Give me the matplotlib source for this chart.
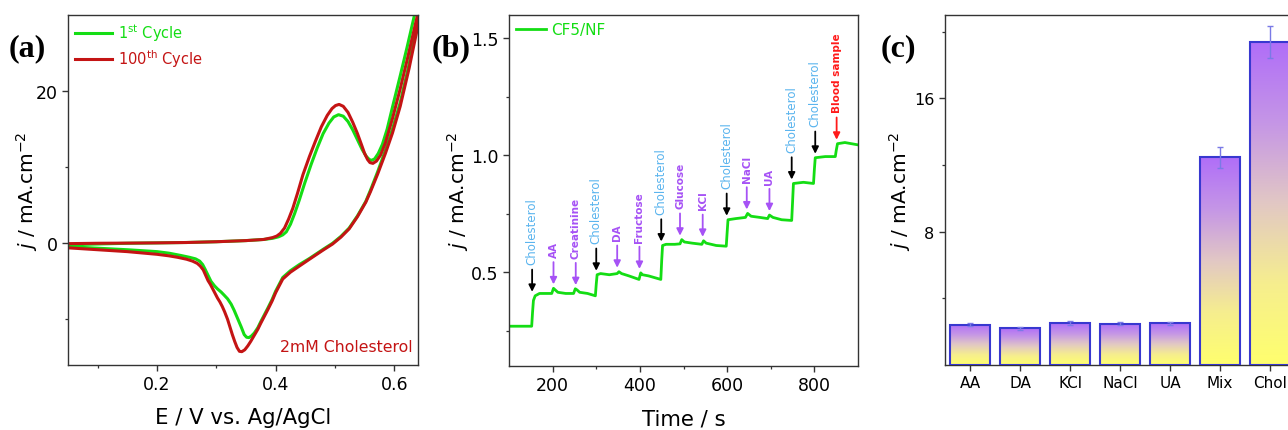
import numpy as np
import matplotlib
matplotlib.use("Agg")
import matplotlib.pyplot as plt
from matplotlib.ticker import FixedLocator
from matplotlib.colors import LinearSegmentedColormap

plt.rcParams['font.family'] = ['DejaVu Sans']
plt.rcParams['mathtext.fontset'] = 'dejavusans'

# ---------------- Panel (a) data: CV loops ----------------
cv1_E = [0.05, 0.10, 0.15, 0.20, 0.25, 0.30, 0.35, 0.38, 0.395, 0.405, 0.412, 0.418, 0.425,
         0.432, 0.44, 0.449, 0.46, 0.47, 0.48, 0.49, 0.498, 0.506, 0.514, 0.522, 0.53, 0.538,
         0.546, 0.553, 0.558, 0.562, 0.567, 0.573, 0.58, 0.588, 0.597, 0.61, 0.622, 0.635, 0.648,
         0.640, 0.625, 0.61, 0.597, 0.585, 0.572, 0.56, 0.552, 0.538, 0.524, 0.51, 0.496, 0.48,
         0.457, 0.44, 0.425, 0.412, 0.40, 0.394, 0.387, 0.381, 0.375, 0.37, 0.364, 0.359, 0.355,
         0.351, 0.347, 0.342, 0.336, 0.330, 0.325, 0.319, 0.313, 0.308, 0.302, 0.297, 0.291,
         0.286, 0.281, 0.277, 0.272, 0.265, 0.255, 0.24, 0.22, 0.20, 0.15, 0.10, 0.05]
cv1_j = [-0.2, -0.1, 0.0, 0.05, 0.1, 0.2, 0.35, 0.5, 0.65, 0.85, 1.1, 1.5, 2.5,
         3.9, 5.7, 7.9, 10.4, 12.5, 14.4, 15.8, 16.6, 16.9, 16.7, 16.0, 14.9, 13.6,
         12.3, 11.4, 11.0, 10.9, 11.1, 11.8, 13.0, 15.0, 17.9, 22.0, 25.9, 30.3, 33.5,
         29.5, 23.5, 18.5, 15.0, 12.2, 9.4, 7.0, 5.5, 3.6, 2.0, 0.9, 0.0, -0.8,
         -2.0, -2.8, -3.6, -4.5, -6.3, -7.4, -8.5, -9.4, -10.3, -11.1, -11.8, -12.2, -12.4,
         -12.35, -12.0, -11.0, -9.9, -8.8, -8.0, -7.3, -6.8, -6.4, -6.0, -5.6, -5.0,
         -4.2, -3.4, -2.8, -2.35, -2.05, -1.85, -1.6, -1.3, -1.1, -0.85, -0.65, -0.45]

cv100_E = [0.05, 0.10, 0.15, 0.20, 0.25, 0.30, 0.35, 0.38, 0.395, 0.402, 0.408, 0.415, 0.422,
           0.429, 0.437, 0.446, 0.457, 0.467, 0.477, 0.487, 0.495, 0.501, 0.507, 0.514, 0.522,
           0.53, 0.538, 0.545, 0.55, 0.555, 0.559, 0.564, 0.57, 0.577, 0.585, 0.597, 0.61, 0.622,
           0.638, 0.650,
           0.641, 0.625, 0.61, 0.597, 0.585, 0.572, 0.56, 0.552, 0.538, 0.524, 0.51, 0.496, 0.48,
           0.457, 0.44, 0.425, 0.412, 0.40, 0.394, 0.387, 0.381, 0.375, 0.37, 0.364, 0.358,
           0.353, 0.348, 0.343, 0.339, 0.335, 0.331, 0.327, 0.323, 0.319, 0.314, 0.31, 0.306,
           0.302, 0.298, 0.294, 0.29, 0.286, 0.282, 0.278, 0.273, 0.268, 0.26, 0.25, 0.235,
           0.22, 0.20, 0.15, 0.10, 0.05]
cv100_j = [-0.05, 0.0, 0.02, 0.05, 0.1, 0.2, 0.35, 0.5, 0.75, 0.95, 1.3, 2.0, 3.2,
           4.6, 6.6, 9.0, 11.4, 13.4, 15.3, 16.8, 17.7, 18.1, 18.25, 18.0, 17.2,
           15.9, 14.4, 12.9, 11.8, 11.0, 10.6, 10.5, 10.8, 11.6, 13.2, 16.4, 20.3, 24.2,
           29.6, 33.5,
           29.0, 23.0, 18.0, 14.5, 11.8, 9.1, 6.8, 5.4, 3.5, 1.9, 0.8, -0.1, -0.9,
           -2.1, -3.0, -3.8, -4.7, -6.5, -7.6, -8.7, -9.6, -10.5, -11.3, -12.1, -12.9,
           -13.5, -14.0, -14.25, -14.2, -13.7, -12.9, -12.0, -11.0, -10.0, -9.0, -8.3, -7.7,
           -7.2, -6.6, -6.0, -5.4, -4.9, -4.2, -3.5, -3.0, -2.65, -2.35, -2.1, -1.85,
           -1.65, -1.45, -1.1, -0.85, -0.6]

# ---------------- Panel (b) data: amperometric i-t ----------------
it_t = [100, 152, 154, 156, 160, 170, 185, 198, 202, 206, 212, 230, 248, 252, 256, 262, 280,
        298, 300, 302, 310, 330, 348, 352, 358, 375, 398, 402, 406, 420, 448, 450, 452, 460,
        480, 492, 496, 502, 520, 542, 546, 552, 575, 598, 600, 602, 620, 642, 647, 655, 675,
        693, 697, 705, 725, 748, 750, 752, 775, 798, 800, 802, 825, 848, 850, 853, 870, 900]
it_j = [0.27, 0.27, 0.33, 0.38, 0.40, 0.41, 0.41, 0.41, 0.432, 0.425, 0.415, 0.41, 0.41,
        0.43, 0.425, 0.415, 0.41, 0.40, 0.45, 0.49, 0.495, 0.49, 0.495, 0.503, 0.495, 0.485,
        0.47, 0.498, 0.49, 0.485, 0.47, 0.55, 0.615, 0.62, 0.62, 0.622, 0.64, 0.63, 0.625,
        0.62, 0.635, 0.625, 0.615, 0.612, 0.67, 0.725, 0.73, 0.735, 0.752, 0.74, 0.735, 0.73,
        0.745, 0.735, 0.725, 0.722, 0.80, 0.88, 0.885, 0.88, 0.94, 0.99, 0.995, 0.995, 1.02,
        1.05, 1.055, 1.045]

inj_t = [153, 202, 253, 300, 348, 399, 449, 492, 544, 599, 645, 697, 748, 802, 851]
inj_labels = ['Cholesterol', 'AA', 'Creatinine', 'Cholesterol', 'DA', 'Fructose', 'Cholesterol',
              'Glucose', 'KCl', 'Cholesterol', 'NaCl', 'UA', 'Cholesterol', 'Cholesterol',
              'Blood sample']
inj_kind = ['chol', 'int', 'int', 'chol', 'int', 'int', 'chol', 'int', 'int', 'chol', 'int',
            'int', 'chol', 'chol', 'blood']

# ---------------- Panel (c) data: selectivity bars ----------------
sel_labels = ['AA', 'DA', 'KCl', 'NaCl', 'UA', 'Mix', 'Chol']
sel_vals = [2.42, 2.2, 2.52, 2.48, 2.5, 12.46, 19.38]
sel_err = [0.1, 0.08, 0.12, 0.1, 0.1, 0.63, 0.98]

GREEN = '#14dd14'
RED = '#c41414'

fig = plt.figure(figsize=(12.88, 4.31), dpi=100)
W, H = 1288, 431

def add_axes_px(left, right, top, bottom):
    return fig.add_axes([left / W, 1 - bottom / H, (right - left) / W, (bottom - top) / H])

def style_axes(ax, fs=12.5):
    for s in ax.spines.values():
        s.set_linewidth(1.0)
        s.set_color('#333333')
    ax.tick_params(which='major', direction='out', length=4.5, width=1.0, labelsize=fs,
                   color='#333333', pad=3)
    ax.tick_params(which='minor', direction='out', length=2.5, width=0.9, color='#333333')

# ---------- (a) ----------
axa = add_axes_px(68, 418, 16, 366)
axa.plot(cv1_E, cv1_j, color=GREEN, lw=2.2, label=r'1$^{\mathrm{st}}$ Cycle',
         solid_joinstyle='round')
axa.plot(cv100_E, cv100_j, color=RED, lw=2.2, label=r'100$^{\mathrm{th}}$ Cycle',
         solid_joinstyle='round')
axa.set_xlim(0.05, 0.64)
axa.set_ylim(-16, 30)
axa.xaxis.set_major_locator(FixedLocator([0.2, 0.4, 0.6]))
axa.xaxis.set_minor_locator(FixedLocator([0.1, 0.3, 0.5]))
axa.yaxis.set_major_locator(FixedLocator([0, 20]))
axa.yaxis.set_minor_locator(FixedLocator([-10, 10]))
style_axes(axa)
axa.set_xlabel('E / V vs. Ag/AgCl', fontsize=15.3, labelpad=10)
axa.set_ylabel('$j$ / mA.cm$^{-2}$', fontsize=14.5, labelpad=-3)
axa.legend(loc='upper left', frameon=False, fontsize=10.5, handlelength=2.6,
           handletextpad=0.35, borderaxespad=0.15, borderpad=0.3, labelspacing=0.25,
           labelcolor='linecolor')
axa.text(0.985, 0.03, '2mM Cholesterol', color=RED, fontsize=11.3, ha='right', va='bottom',
         transform=axa.transAxes)

# ---------- (b) ----------
axb = add_axes_px(509, 858, 16, 367)
axb.plot(it_t, it_j, color=GREEN, lw=2.0, label='CF5/NF', solid_joinstyle='round')
axb.set_xlim(100, 900)
axb.set_ylim(0.1, 1.6)
axb.xaxis.set_major_locator(FixedLocator([200, 400, 600, 800]))
axb.xaxis.set_minor_locator(FixedLocator([300, 500, 700]))
axb.yaxis.set_major_locator(FixedLocator([0.5, 1.0, 1.5]))
axb.yaxis.set_minor_locator(FixedLocator([0.25, 0.75, 1.25]))
style_axes(axb)
axb.set_xlabel('Time / s', fontsize=15.3, labelpad=10)
axb.set_ylabel('$j$ / mA.cm$^{-2}$', fontsize=14.5, labelpad=0)
axb.legend(loc='upper left', frameon=False, fontsize=11, handlelength=2.0,
           handletextpad=0.3, borderaxespad=0.15, borderpad=0.3, labelcolor='linecolor')

kind_style = {
    'chol': dict(tc='#5ab4ee', ac='black', weight='normal', fs=8.5),
    'int': dict(tc='#a652f5', ac='#a652f5', weight='bold', fs=7.5),
    'blood': dict(tc='#ff1a1a', ac='#ff1a1a', weight='bold', fs=7.5),
}
t_arr = np.array(it_t, dtype=float)
j_arr = np.array(it_j, dtype=float)
for t, lab, kind in zip(inj_t, inj_labels, inj_kind):
    st = kind_style[kind]
    mask = (t_arr >= t) & (t_arr <= t + 9)
    base = max(np.interp(t, t_arr, j_arr), j_arr[mask].max() if mask.any() else 0)
    tip = base + 0.017
    tail = tip + 0.095
    axb.annotate('', xy=(t, tip), xytext=(t, tail),
                 arrowprops=dict(arrowstyle='-|>', color=st['ac'], lw=1.3,
                                 mutation_scale=10, shrinkA=0, shrinkB=0))
    axb.text(t, tail + 0.022, lab, rotation=90, ha='center', va='bottom', color=st['tc'],
             fontsize=st['fs'], fontweight=st['weight'])

# ---------- (c) ----------
axc = add_axes_px(945, 1295, 16, 366)
x = np.arange(len(sel_labels))
cmap = LinearSegmentedColormap.from_list('yp', ['#ffff6e', '#f6ee8e', '#e2c8c4', '#c596e6', '#b06ef8'])
grad = np.linspace(0, 1, 256).reshape(-1, 1)
bars = axc.bar(x, sel_vals, width=0.8, facecolor='none', edgecolor='#3838d0', lw=1.5, zorder=3)
for b in bars:
    bx, bw, bh = b.get_x(), b.get_width(), b.get_height()
    axc.imshow(grad, extent=[bx, bx + bw, 0, bh], origin='lower', aspect='auto', cmap=cmap,
               zorder=2, interpolation='bilinear')
axc.errorbar(x, sel_vals, yerr=sel_err, fmt='none', ecolor='#7a7ae6', elinewidth=1.0,
             capsize=2.5, capthick=1.0, zorder=4)
axc.set_xlim(-0.5, 6.5)
axc.set_ylim(0, 21)
axc.set_xticks(x)
axc.set_xticklabels(sel_labels)
axc.yaxis.set_major_locator(FixedLocator([8, 16]))
axc.yaxis.set_minor_locator(FixedLocator([4, 12, 20]))
style_axes(axc, fs=11.5)
axc.tick_params(axis='x', labelsize=11)
axc.set_ylabel('$j$ / mA.cm$^{-2}$', fontsize=14.5, labelpad=1)

# panel labels
for px, lab in [(9, '(a)'), (432, '(b)'), (881, '(c)')]:
    fig.text(px / W, 1 - 49 / H, lab, fontsize=23, fontweight='bold',
             family='Liberation Serif', ha='left', va='center')

fig.savefig('out.png', dpi=100)
